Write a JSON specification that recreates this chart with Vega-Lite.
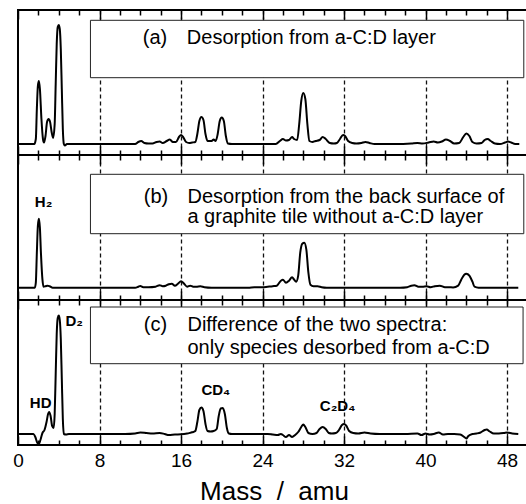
{
  "$schema": "https://vega.github.io/schema/vega-lite/v6.json",
  "background": "white",
  "padding": {"left": 11, "top": 8, "right": 0, "bottom": 0},
  "spacing": 0,
  "bounds": "flush",
  "config": {
    "view": {"stroke": "black", "strokeWidth": 2},
    "font": "Liberation Sans",
    "text": {"font": "Liberation Sans", "color": "black"}
  },
  "datasets": {
    "spectra": [
      {"panel": "a", "mass": 0, "signal": 0}, {"panel": "a", "mass": 1.6, "signal": 0}, {"panel": "a", "mass": 1.75, "signal": 5}, {"panel": "a", "mass": 1.85, "signal": 35}, {"panel": "a", "mass": 1.95, "signal": 58}, {"panel": "a", "mass": 2.05, "signal": 63}, {"panel": "a", "mass": 2.15, "signal": 55}, {"panel": "a", "mass": 2.3, "signal": 25}, {"panel": "a", "mass": 2.45, "signal": 5}, {"panel": "a", "mass": 2.55, "signal": 1.5}, {"panel": "a", "mass": 2.7, "signal": 8}, {"panel": "a", "mass": 2.85, "signal": 22}, {"panel": "a", "mass": 3.0, "signal": 25}, {"panel": "a", "mass": 3.15, "signal": 22}, {"panel": "a", "mass": 3.3, "signal": 12}, {"panel": "a", "mass": 3.45, "signal": 6}, {"panel": "a", "mass": 3.6, "signal": 20}, {"panel": "a", "mass": 3.7, "signal": 60}, {"panel": "a", "mass": 3.8, "signal": 100}, {"panel": "a", "mass": 3.9, "signal": 117}, {"panel": "a", "mass": 4.0, "signal": 119}, {"panel": "a", "mass": 4.1, "signal": 115}, {"panel": "a", "mass": 4.2, "signal": 95}, {"panel": "a", "mass": 4.3, "signal": 55}, {"panel": "a", "mass": 4.4, "signal": 15}, {"panel": "a", "mass": 4.5, "signal": 0}, {"panel": "a", "mass": 4.6, "signal": -1.5}, {"panel": "a", "mass": 4.8, "signal": 0}, {"panel": "a", "mass": 11.5, "signal": 0}, {"panel": "a", "mass": 11.8, "signal": 2}, {"panel": "a", "mass": 12.1, "signal": 3}, {"panel": "a", "mass": 12.4, "signal": 1}, {"panel": "a", "mass": 12.8, "signal": 0.5}, {"panel": "a", "mass": 13.2, "signal": 0.5}, {"panel": "a", "mass": 13.6, "signal": 2}, {"panel": "a", "mass": 13.9, "signal": 2.5}, {"panel": "a", "mass": 14.2, "signal": 1}, {"panel": "a", "mass": 14.6, "signal": 3}, {"panel": "a", "mass": 14.9, "signal": 4.5}, {"panel": "a", "mass": 15.2, "signal": 2}, {"panel": "a", "mass": 15.5, "signal": 2}, {"panel": "a", "mass": 15.8, "signal": 7}, {"panel": "a", "mass": 16.0, "signal": 9}, {"panel": "a", "mass": 16.2, "signal": 7}, {"panel": "a", "mass": 16.5, "signal": 2}, {"panel": "a", "mass": 16.8, "signal": 1}, {"panel": "a", "mass": 17.1, "signal": 1.5}, {"panel": "a", "mass": 17.4, "signal": 2}, {"panel": "a", "mass": 17.6, "signal": 10}, {"panel": "a", "mass": 17.8, "signal": 23}, {"panel": "a", "mass": 18.0, "signal": 27}, {"panel": "a", "mass": 18.2, "signal": 24}, {"panel": "a", "mass": 18.4, "signal": 10}, {"panel": "a", "mass": 18.6, "signal": 3}, {"panel": "a", "mass": 19.0, "signal": 3}, {"panel": "a", "mass": 19.2, "signal": 4.5}, {"panel": "a", "mass": 19.4, "signal": 3}, {"panel": "a", "mass": 19.6, "signal": 10}, {"panel": "a", "mass": 19.8, "signal": 23}, {"panel": "a", "mass": 20.0, "signal": 26.5}, {"panel": "a", "mass": 20.2, "signal": 23}, {"panel": "a", "mass": 20.4, "signal": 8}, {"panel": "a", "mass": 20.6, "signal": 0.5}, {"panel": "a", "mass": 21, "signal": 0}, {"panel": "a", "mass": 25.3, "signal": 0}, {"panel": "a", "mass": 25.7, "signal": 3}, {"panel": "a", "mass": 26.0, "signal": 5}, {"panel": "a", "mass": 26.3, "signal": 3.5}, {"panel": "a", "mass": 26.6, "signal": 4}, {"panel": "a", "mass": 26.9, "signal": 7}, {"panel": "a", "mass": 27.1, "signal": 5}, {"panel": "a", "mass": 27.4, "signal": 4}, {"panel": "a", "mass": 27.6, "signal": 20}, {"panel": "a", "mass": 27.8, "signal": 43}, {"panel": "a", "mass": 28.0, "signal": 51}, {"panel": "a", "mass": 28.2, "signal": 45}, {"panel": "a", "mass": 28.4, "signal": 20}, {"panel": "a", "mass": 28.6, "signal": 3}, {"panel": "a", "mass": 28.9, "signal": 2}, {"panel": "a", "mass": 29.2, "signal": 3}, {"panel": "a", "mass": 29.6, "signal": 4}, {"panel": "a", "mass": 29.9, "signal": 7}, {"panel": "a", "mass": 30.2, "signal": 5}, {"panel": "a", "mass": 30.6, "signal": 1}, {"panel": "a", "mass": 31.0, "signal": 0.5}, {"panel": "a", "mass": 31.3, "signal": 1}, {"panel": "a", "mass": 31.6, "signal": 5}, {"panel": "a", "mass": 31.9, "signal": 9}, {"panel": "a", "mass": 32.1, "signal": 8}, {"panel": "a", "mass": 32.4, "signal": 3}, {"panel": "a", "mass": 32.8, "signal": 1}, {"panel": "a", "mass": 33.2, "signal": 0.5}, {"panel": "a", "mass": 33.7, "signal": 1}, {"panel": "a", "mass": 34.1, "signal": 2}, {"panel": "a", "mass": 34.5, "signal": 1}, {"panel": "a", "mass": 35, "signal": 0}, {"panel": "a", "mass": 37, "signal": 0}, {"panel": "a", "mass": 38.6, "signal": 0.5}, {"panel": "a", "mass": 39.2, "signal": 1}, {"panel": "a", "mass": 39.7, "signal": 0.5}, {"panel": "a", "mass": 40.3, "signal": 1.5}, {"panel": "a", "mass": 40.8, "signal": 2.5}, {"panel": "a", "mass": 41.2, "signal": 1.5}, {"panel": "a", "mass": 41.6, "signal": 2.5}, {"panel": "a", "mass": 42.0, "signal": 4.5}, {"panel": "a", "mass": 42.4, "signal": 3}, {"panel": "a", "mass": 42.8, "signal": 0.5}, {"panel": "a", "mass": 43.3, "signal": 1}, {"panel": "a", "mass": 43.7, "signal": 7}, {"panel": "a", "mass": 44.0, "signal": 10.5}, {"panel": "a", "mass": 44.3, "signal": 8}, {"panel": "a", "mass": 44.6, "signal": 2}, {"panel": "a", "mass": 45.0, "signal": 0.5}, {"panel": "a", "mass": 45.5, "signal": 1}, {"panel": "a", "mass": 45.8, "signal": 4}, {"panel": "a", "mass": 46.1, "signal": 5}, {"panel": "a", "mass": 46.4, "signal": 3}, {"panel": "a", "mass": 46.8, "signal": 0.5}, {"panel": "a", "mass": 47.3, "signal": 0}, {"panel": "a", "mass": 47.8, "signal": 1.5}, {"panel": "a", "mass": 48.1, "signal": 2.5}, {"panel": "a", "mass": 48.4, "signal": 1.5}, {"panel": "a", "mass": 48.8, "signal": 0}, {"panel": "a", "mass": 49.2, "signal": 0},

      {"panel": "b", "mass": 0, "signal": 0}, {"panel": "b", "mass": 1.65, "signal": 0}, {"panel": "b", "mass": 1.75, "signal": 5}, {"panel": "b", "mass": 1.85, "signal": 35}, {"panel": "b", "mass": 1.95, "signal": 62}, {"panel": "b", "mass": 2.05, "signal": 69}, {"panel": "b", "mass": 2.15, "signal": 60}, {"panel": "b", "mass": 2.25, "signal": 35}, {"panel": "b", "mass": 2.4, "signal": 8}, {"panel": "b", "mass": 2.5, "signal": 1}, {"panel": "b", "mass": 2.7, "signal": 1.5}, {"panel": "b", "mass": 2.9, "signal": 2}, {"panel": "b", "mass": 3.1, "signal": 1.5}, {"panel": "b", "mass": 3.4, "signal": 0}, {"panel": "b", "mass": 11.5, "signal": 0}, {"panel": "b", "mass": 11.8, "signal": 1}, {"panel": "b", "mass": 12.0, "signal": 1.8}, {"panel": "b", "mass": 12.3, "signal": 0.5}, {"panel": "b", "mass": 12.8, "signal": 0.5}, {"panel": "b", "mass": 13.5, "signal": 1}, {"panel": "b", "mass": 13.9, "signal": 2.5}, {"panel": "b", "mass": 14.2, "signal": 1.5}, {"panel": "b", "mass": 14.5, "signal": 2}, {"panel": "b", "mass": 14.8, "signal": 3.5}, {"panel": "b", "mass": 15.1, "signal": 4}, {"panel": "b", "mass": 15.4, "signal": 2}, {"panel": "b", "mass": 15.7, "signal": 4}, {"panel": "b", "mass": 16.0, "signal": 6.5}, {"panel": "b", "mass": 16.3, "signal": 4}, {"panel": "b", "mass": 16.6, "signal": 1}, {"panel": "b", "mass": 16.9, "signal": 2}, {"panel": "b", "mass": 17.2, "signal": 1}, {"panel": "b", "mass": 17.5, "signal": 1}, {"panel": "b", "mass": 17.9, "signal": 1.5}, {"panel": "b", "mass": 18.3, "signal": 0.5}, {"panel": "b", "mass": 19, "signal": 0}, {"panel": "b", "mass": 22.6, "signal": 0}, {"panel": "b", "mass": 23.2, "signal": 0.5}, {"panel": "b", "mass": 24.0, "signal": 0.5}, {"panel": "b", "mass": 24.5, "signal": 1}, {"panel": "b", "mass": 25.0, "signal": 1.5}, {"panel": "b", "mass": 25.4, "signal": 2}, {"panel": "b", "mass": 25.8, "signal": 7}, {"panel": "b", "mass": 26.0, "signal": 8}, {"panel": "b", "mass": 26.3, "signal": 5}, {"panel": "b", "mass": 26.6, "signal": 7}, {"panel": "b", "mass": 26.9, "signal": 10.5}, {"panel": "b", "mass": 27.1, "signal": 8}, {"panel": "b", "mass": 27.3, "signal": 6}, {"panel": "b", "mass": 27.5, "signal": 12}, {"panel": "b", "mass": 27.7, "signal": 35}, {"panel": "b", "mass": 27.9, "signal": 44}, {"panel": "b", "mass": 28.1, "signal": 45}, {"panel": "b", "mass": 28.3, "signal": 38}, {"panel": "b", "mass": 28.5, "signal": 15}, {"panel": "b", "mass": 28.7, "signal": 3}, {"panel": "b", "mass": 29.0, "signal": 1.5}, {"panel": "b", "mass": 29.4, "signal": 1.5}, {"panel": "b", "mass": 29.8, "signal": 0.5}, {"panel": "b", "mass": 30.3, "signal": 0}, {"panel": "b", "mass": 37.5, "signal": 0}, {"panel": "b", "mass": 38.2, "signal": 0.5}, {"panel": "b", "mass": 38.6, "signal": 2}, {"panel": "b", "mass": 38.9, "signal": 2.5}, {"panel": "b", "mass": 39.3, "signal": 1}, {"panel": "b", "mass": 39.7, "signal": 1}, {"panel": "b", "mass": 40.1, "signal": 1.5}, {"panel": "b", "mass": 40.5, "signal": 0.5}, {"panel": "b", "mass": 40.9, "signal": 1.5}, {"panel": "b", "mass": 41.4, "signal": 2}, {"panel": "b", "mass": 41.9, "signal": 0.5}, {"panel": "b", "mass": 42.3, "signal": 0.5}, {"panel": "b", "mass": 42.7, "signal": 0.3}, {"panel": "b", "mass": 43.2, "signal": 2}, {"panel": "b", "mass": 43.5, "signal": 8}, {"panel": "b", "mass": 43.8, "signal": 13}, {"panel": "b", "mass": 44.0, "signal": 14}, {"panel": "b", "mass": 44.3, "signal": 12}, {"panel": "b", "mass": 44.6, "signal": 6}, {"panel": "b", "mass": 44.8, "signal": 1}, {"panel": "b", "mass": 45.2, "signal": 0}, {"panel": "b", "mass": 49.1, "signal": 0},

      {"panel": "c", "mass": 0, "signal": 0}, {"panel": "c", "mass": 1.5, "signal": 0}, {"panel": "c", "mass": 1.7, "signal": -3}, {"panel": "c", "mass": 1.9, "signal": -9}, {"panel": "c", "mass": 2.05, "signal": -10}, {"panel": "c", "mass": 2.2, "signal": -6}, {"panel": "c", "mass": 2.4, "signal": 1}, {"panel": "c", "mass": 2.6, "signal": 4}, {"panel": "c", "mass": 2.8, "signal": 12}, {"panel": "c", "mass": 2.95, "signal": 20}, {"panel": "c", "mass": 3.05, "signal": 22}, {"panel": "c", "mass": 3.2, "signal": 18}, {"panel": "c", "mass": 3.35, "signal": 8}, {"panel": "c", "mass": 3.5, "signal": 6}, {"panel": "c", "mass": 3.6, "signal": 20}, {"panel": "c", "mass": 3.7, "signal": 60}, {"panel": "c", "mass": 3.8, "signal": 100}, {"panel": "c", "mass": 3.9, "signal": 116}, {"panel": "c", "mass": 4.0, "signal": 118.5}, {"panel": "c", "mass": 4.1, "signal": 114}, {"panel": "c", "mass": 4.2, "signal": 95}, {"panel": "c", "mass": 4.3, "signal": 55}, {"panel": "c", "mass": 4.4, "signal": 15}, {"panel": "c", "mass": 4.5, "signal": 0}, {"panel": "c", "mass": 4.7, "signal": -0.5}, {"panel": "c", "mass": 5.0, "signal": 0}, {"panel": "c", "mass": 10.5, "signal": 0}, {"panel": "c", "mass": 11.5, "signal": 0.5}, {"panel": "c", "mass": 12.0, "signal": 1.5}, {"panel": "c", "mass": 12.6, "signal": 1}, {"panel": "c", "mass": 13.2, "signal": 0.5}, {"panel": "c", "mass": 13.9, "signal": 1}, {"panel": "c", "mass": 14.4, "signal": 0}, {"panel": "c", "mass": 14.8, "signal": -1}, {"panel": "c", "mass": 15.4, "signal": -0.5}, {"panel": "c", "mass": 16.0, "signal": -0.3}, {"panel": "c", "mass": 16.6, "signal": 0.5}, {"panel": "c", "mass": 17.0, "signal": 1.5}, {"panel": "c", "mass": 17.2, "signal": 2}, {"panel": "c", "mass": 17.4, "signal": 3}, {"panel": "c", "mass": 17.6, "signal": 12}, {"panel": "c", "mass": 17.8, "signal": 24}, {"panel": "c", "mass": 18.0, "signal": 26.5}, {"panel": "c", "mass": 18.2, "signal": 23}, {"panel": "c", "mass": 18.4, "signal": 10}, {"panel": "c", "mass": 18.6, "signal": 3}, {"panel": "c", "mass": 18.9, "signal": 2.5}, {"panel": "c", "mass": 19.2, "signal": 3}, {"panel": "c", "mass": 19.5, "signal": 5}, {"panel": "c", "mass": 19.7, "signal": 18}, {"panel": "c", "mass": 19.9, "signal": 25.5}, {"panel": "c", "mass": 20.1, "signal": 26}, {"panel": "c", "mass": 20.3, "signal": 20}, {"panel": "c", "mass": 20.5, "signal": 6}, {"panel": "c", "mass": 20.7, "signal": 0.5}, {"panel": "c", "mass": 21.0, "signal": 0}, {"panel": "c", "mass": 24.5, "signal": 0}, {"panel": "c", "mass": 25.0, "signal": -0.5}, {"panel": "c", "mass": 25.5, "signal": -1}, {"panel": "c", "mass": 25.8, "signal": 0}, {"panel": "c", "mass": 26.0, "signal": -1}, {"panel": "c", "mass": 26.3, "signal": -3}, {"panel": "c", "mass": 26.6, "signal": -1}, {"panel": "c", "mass": 26.9, "signal": -3}, {"panel": "c", "mass": 27.2, "signal": -1}, {"panel": "c", "mass": 27.5, "signal": 2}, {"panel": "c", "mass": 27.8, "signal": 7}, {"panel": "c", "mass": 28.0, "signal": 9.5}, {"panel": "c", "mass": 28.2, "signal": 7}, {"panel": "c", "mass": 28.5, "signal": 1}, {"panel": "c", "mass": 28.9, "signal": 0}, {"panel": "c", "mass": 29.3, "signal": 1}, {"panel": "c", "mass": 29.6, "signal": 5}, {"panel": "c", "mass": 29.9, "signal": 7}, {"panel": "c", "mass": 30.2, "signal": 5}, {"panel": "c", "mass": 30.5, "signal": 1}, {"panel": "c", "mass": 30.8, "signal": 0.5}, {"panel": "c", "mass": 31.2, "signal": 1}, {"panel": "c", "mass": 31.5, "signal": 4}, {"panel": "c", "mass": 31.8, "signal": 9}, {"panel": "c", "mass": 32.0, "signal": 10}, {"panel": "c", "mass": 32.2, "signal": 8.5}, {"panel": "c", "mass": 32.5, "signal": 3}, {"panel": "c", "mass": 32.9, "signal": 1}, {"panel": "c", "mass": 33.4, "signal": 0.5}, {"panel": "c", "mass": 34.0, "signal": 1.5}, {"panel": "c", "mass": 34.6, "signal": 0.5}, {"panel": "c", "mass": 35.5, "signal": 0}, {"panel": "c", "mass": 38.0, "signal": 0}, {"panel": "c", "mass": 39.2, "signal": 0.5}, {"panel": "c", "mass": 39.6, "signal": -1}, {"panel": "c", "mass": 40.0, "signal": 0.5}, {"panel": "c", "mass": 40.4, "signal": -0.5}, {"panel": "c", "mass": 40.8, "signal": 0}, {"panel": "c", "mass": 41.3, "signal": 1.5}, {"panel": "c", "mass": 41.7, "signal": -0.5}, {"panel": "c", "mass": 42.2, "signal": 0}, {"panel": "c", "mass": 42.8, "signal": 0}, {"panel": "c", "mass": 43.4, "signal": -0.5}, {"panel": "c", "mass": 43.8, "signal": -3}, {"panel": "c", "mass": 44.0, "signal": -4.5}, {"panel": "c", "mass": 44.2, "signal": -2}, {"panel": "c", "mass": 44.6, "signal": 0}, {"panel": "c", "mass": 45.0, "signal": 0.5}, {"panel": "c", "mass": 45.4, "signal": 1.5}, {"panel": "c", "mass": 45.8, "signal": 4}, {"panel": "c", "mass": 46.0, "signal": 4.5}, {"panel": "c", "mass": 46.3, "signal": 2.5}, {"panel": "c", "mass": 46.7, "signal": 0.5}, {"panel": "c", "mass": 47.2, "signal": 0.5}, {"panel": "c", "mass": 47.7, "signal": 1}, {"panel": "c", "mass": 48.0, "signal": 1.5}, {"panel": "c", "mass": 48.5, "signal": 0.5}, {"panel": "c", "mass": 49.1, "signal": 0}
    ],
    "one": [{}]
  },
  "vconcat": [
    {
      "width": 512, "height": 145,
      "resolve": {"axis": {"x": "independent"}},
      "layer": [
        {
          "data": {"name": "spectra"},
          "transform": [{"filter": "datum.panel === 'a'"}],
          "mark": {"type": "line", "interpolate": "monotone", "color": "black", "strokeWidth": 2},
          "encoding": {
            "x": {"field": "mass", "type": "quantitative", "scale": {"domain": [0, 50.25], "nice": false, "zero": false},
              "axis": {"orient": "bottom", "values": [0,2,4,6,8,10,12,14,16,18,20,22,24,26,28,30,32,34,36,38,40,42,44,46,48,50], "labels": false, "domain": false, "title": null, "tickColor": "black", "tickWidth": 1.5, "tickSize": {"condition": {"test": "datum.value % 8 === 0", "value": -9}, "value": -5}, "grid": true, "gridColor": "#111111", "gridWidth": 1.3, "gridDash": [4, 3], "gridOpacity": {"condition": {"test": "datum.value % 8 === 0 && datum.value > 0 && datum.value < 50", "value": 1}, "value": 0}}},
            "y": {"field": "signal", "type": "quantitative", "scale": {"domain": [-11, 134], "nice": false, "zero": false},
              "axis": {"orient": "left", "values": [0,11,22,33,44,55,66,77,88,99,110,121,132], "labels": false, "domain": false, "title": null, "grid": false, "tickColor": "black", "tickWidth": 1.5, "tickSize": {"condition": {"test": "datum.value === 55 || datum.value === 110", "value": -10}, "value": -5.5}}}
          }
        },
        {
          "data": {"name": "one"},
          "mark": {"type": "rect", "fill": "white", "stroke": "#222222", "strokeWidth": 1},
          "encoding": {
            "x": {"datum": 7.11, "type": "quantitative",
              "axis": {"orient": "top", "values": [0,2,4,6,8,10,12,14,16,18,20,22,24,26,28,30,32,34,36,38,40,42,44,46,48,50], "labels": false, "domain": false, "title": null, "grid": false, "tickColor": "black", "tickWidth": 1.5, "tickSize": {"condition": {"test": "datum.value % 8 === 0", "value": -9}, "value": -5}}},
            "x2": {"datum": 49.64},
            "y": {"datum": 123.7, "type": "quantitative", "axis": null},
            "y2": {"datum": 66.3}
          }
        },
        {
          "data": {"name": "one"},
          "mark": {"type": "text", "align": "left", "baseline": "alphabetic", "fontSize": 20, "font": "Liberation Sans"},
          "encoding": {
            "x": {"datum": 12.25, "type": "quantitative", "axis": null},
            "y": {"datum": 99.7, "type": "quantitative", "axis": null},
            "text": {"value": "(a)"}
          }
        },
        {
          "data": {"name": "one"},
          "mark": {"type": "text", "align": "left", "baseline": "alphabetic", "fontSize": 20, "font": "Liberation Sans"},
          "encoding": {
            "x": {"datum": 16.57, "type": "quantitative", "axis": null},
            "y": {"datum": 99.7, "type": "quantitative", "axis": null},
            "text": {"value": "Desorption from a-C:D layer"}
          }
        }
      ]
    },
    {
      "width": 512, "height": 145,
      "resolve": {"axis": {"x": "independent"}},
      "layer": [
        {
          "data": {"name": "spectra"},
          "transform": [{"filter": "datum.panel === 'b'"}],
          "mark": {"type": "line", "interpolate": "monotone", "color": "black", "strokeWidth": 2},
          "encoding": {
            "x": {"field": "mass", "type": "quantitative", "scale": {"domain": [0, 50.25], "nice": false, "zero": false},
              "axis": {"orient": "bottom", "values": [0,2,4,6,8,10,12,14,16,18,20,22,24,26,28,30,32,34,36,38,40,42,44,46,48,50], "labels": false, "domain": false, "title": null, "tickColor": "black", "tickWidth": 1.5, "tickSize": {"condition": {"test": "datum.value % 8 === 0", "value": -9}, "value": -5}, "grid": true, "gridColor": "#111111", "gridWidth": 1.3, "gridDash": [4, 3], "gridOpacity": {"condition": {"test": "datum.value % 8 === 0 && datum.value > 0 && datum.value < 50", "value": 1}, "value": 0}}},
            "y": {"field": "signal", "type": "quantitative", "scale": {"domain": [-12.3, 132.7], "nice": false, "zero": false},
              "axis": {"orient": "left", "values": [0,11,22,33,44,55,66,77,88,99,110,121,132], "labels": false, "domain": false, "title": null, "grid": false, "tickColor": "black", "tickWidth": 1.5, "tickSize": {"condition": {"test": "datum.value === 55 || datum.value === 110", "value": -10}, "value": -5.5}}}
          }
        },
        {
          "data": {"name": "one"},
          "mark": {"type": "rect", "fill": "white", "stroke": "#222222", "strokeWidth": 1},
          "encoding": {
            "x": {"datum": 7.11, "type": "quantitative",
              "axis": {"orient": "top", "values": [0,2,4,6,8,10,12,14,16,18,20,22,24,26,28,30,32,34,36,38,40,42,44,46,48,50], "labels": false, "domain": false, "title": null, "grid": false, "tickColor": "black", "tickWidth": 1.5, "tickSize": {"condition": {"test": "datum.value % 8 === 0", "value": -9}, "value": -5}}},
            "x2": {"datum": 49.64},
            "y": {"datum": 113.4, "type": "quantitative", "axis": null},
            "y2": {"datum": 54}
          }
        },
        {
          "data": {"name": "one"},
          "mark": {"type": "text", "align": "left", "baseline": "alphabetic", "fontSize": 20, "font": "Liberation Sans"},
          "encoding": {
            "x": {"datum": 12.35, "type": "quantitative", "axis": null},
            "y": {"datum": 85, "type": "quantitative", "axis": null},
            "text": {"value": "(b)"}
          }
        },
        {
          "data": {"name": "one"},
          "mark": {"type": "text", "align": "left", "baseline": "alphabetic", "fontSize": 20, "font": "Liberation Sans", "lineHeight": 20},
          "encoding": {
            "x": {"datum": 16.63, "type": "quantitative", "axis": null},
            "y": {"datum": 85, "type": "quantitative", "axis": null},
            "text": {"value": ["Desorption from the back surface of", "a graphite tile without a-C:D layer"]}
          }
        },
        {
          "data": {"name": "one"},
          "mark": {"type": "text", "align": "left", "baseline": "alphabetic", "fontSize": 15, "fontWeight": "bold", "font": "Liberation Sans"},
          "encoding": {
            "x": {"datum": 1.65, "type": "quantitative", "axis": null},
            "y": {"datum": 80.7, "type": "quantitative", "axis": null},
            "text": {"value": "H₂"}
          }
        }
      ]
    },
    {
      "width": 512, "height": 145,
      "resolve": {"axis": {"x": "independent"}},
      "layer": [
        {
          "data": {"name": "spectra"},
          "transform": [{"filter": "datum.panel === 'c'"}],
          "mark": {"type": "line", "interpolate": "monotone", "color": "black", "strokeWidth": 2},
          "encoding": {
            "x": {"field": "mass", "type": "quantitative", "scale": {"domain": [0, 50.25], "nice": false, "zero": false},
              "axis": {"orient": "bottom", "values": [0,2,4,6,8,10,12,14,16,18,20,22,24,26,28,30,32,34,36,38,40,42,44,46,48,50], "labels": true, "labelExpr": "datum.value % 8 === 0 ? datum.label : ''", "labelFont": "Liberation Sans", "labelFontSize": 19, "labelColor": "black", "labelPadding": 15, "labelFlush": false, "labelOverlap": false, "domain": false, "title": "Mass\u00a0\u00a0/\u00a0\u00a0amu", "titleFont": "Liberation Sans", "titleFontSize": 26, "titleFontWeight": "normal", "titleColor": "black", "titlePadding": 4, "tickColor": "black", "tickWidth": 1.5, "tickSize": {"condition": {"test": "datum.value % 8 === 0", "value": -9}, "value": -5}, "grid": true, "gridColor": "#111111", "gridWidth": 1.3, "gridDash": [4, 3], "gridOpacity": {"condition": {"test": "datum.value % 8 === 0 && datum.value > 0 && datum.value < 50", "value": 1}, "value": 0}}},
            "y": {"field": "signal", "type": "quantitative", "scale": {"domain": [-11, 134], "nice": false, "zero": false},
              "axis": {"orient": "left", "values": [0,11,22,33,44,55,66,77,88,99,110,121,132], "labels": false, "domain": false, "title": null, "grid": false, "tickColor": "black", "tickWidth": 1.5, "tickSize": {"condition": {"test": "datum.value === 55 || datum.value === 110", "value": -10}, "value": -5.5}}}
          }
        },
        {
          "data": {"name": "one"},
          "mark": {"type": "rect", "fill": "white", "stroke": "#222222", "strokeWidth": 1},
          "encoding": {
            "x": {"datum": 7.11, "type": "quantitative",
              "axis": {"orient": "top", "values": [0,2,4,6,8,10,12,14,16,18,20,22,24,26,28,30,32,34,36,38,40,42,44,46,48,50], "labels": false, "domain": false, "title": null, "grid": false, "tickColor": "black", "tickWidth": 1.5, "tickSize": {"condition": {"test": "datum.value % 8 === 0", "value": -9}, "value": -5}}},
            "x2": {"datum": 49.57},
            "y": {"datum": 127, "type": "quantitative", "axis": null},
            "y2": {"datum": 70.3}
          }
        },
        {
          "data": {"name": "one"},
          "mark": {"type": "text", "align": "left", "baseline": "alphabetic", "fontSize": 20, "font": "Liberation Sans"},
          "encoding": {
            "x": {"datum": 12.35, "type": "quantitative", "axis": null},
            "y": {"datum": 103, "type": "quantitative", "axis": null},
            "text": {"value": "(c)"}
          }
        },
        {
          "data": {"name": "one"},
          "mark": {"type": "text", "align": "left", "baseline": "alphabetic", "fontSize": 20, "font": "Liberation Sans", "lineHeight": 23},
          "encoding": {
            "x": {"datum": 16.63, "type": "quantitative", "axis": null},
            "y": {"datum": 103, "type": "quantitative", "axis": null},
            "text": {"value": ["Difference of the two spectra:", "only species desorbed from a-C:D"]}
          }
        },
        {
          "data": {"name": "one"},
          "mark": {"type": "text", "align": "left", "baseline": "alphabetic", "fontSize": 15, "fontWeight": "bold", "font": "Liberation Sans"},
          "encoding": {
            "x": {"datum": 1.16, "type": "quantitative", "axis": null},
            "y": {"datum": 25.7, "type": "quantitative", "axis": null},
            "text": {"value": "HD"}
          }
        },
        {
          "data": {"name": "one"},
          "mark": {"type": "text", "align": "left", "baseline": "alphabetic", "fontSize": 15, "fontWeight": "bold", "font": "Liberation Sans"},
          "encoding": {
            "x": {"datum": 4.66, "type": "quantitative", "axis": null},
            "y": {"datum": 108, "type": "quantitative", "axis": null},
            "text": {"value": "D₂"}
          }
        },
        {
          "data": {"name": "one"},
          "mark": {"type": "text", "align": "left", "baseline": "alphabetic", "fontSize": 15, "fontWeight": "bold", "font": "Liberation Sans"},
          "encoding": {
            "x": {"datum": 18.0, "type": "quantitative", "axis": null},
            "y": {"datum": 39, "type": "quantitative", "axis": null},
            "text": {"value": "CD₄"}
          }
        },
        {
          "data": {"name": "one"},
          "mark": {"type": "text", "align": "left", "baseline": "alphabetic", "fontSize": 15, "fontWeight": "bold", "font": "Liberation Sans"},
          "encoding": {
            "x": {"datum": 29.62, "type": "quantitative", "axis": null},
            "y": {"datum": 23, "type": "quantitative", "axis": null},
            "text": {"value": "C₂D₄"}
          }
        }
      ]
    }
  ]
}
